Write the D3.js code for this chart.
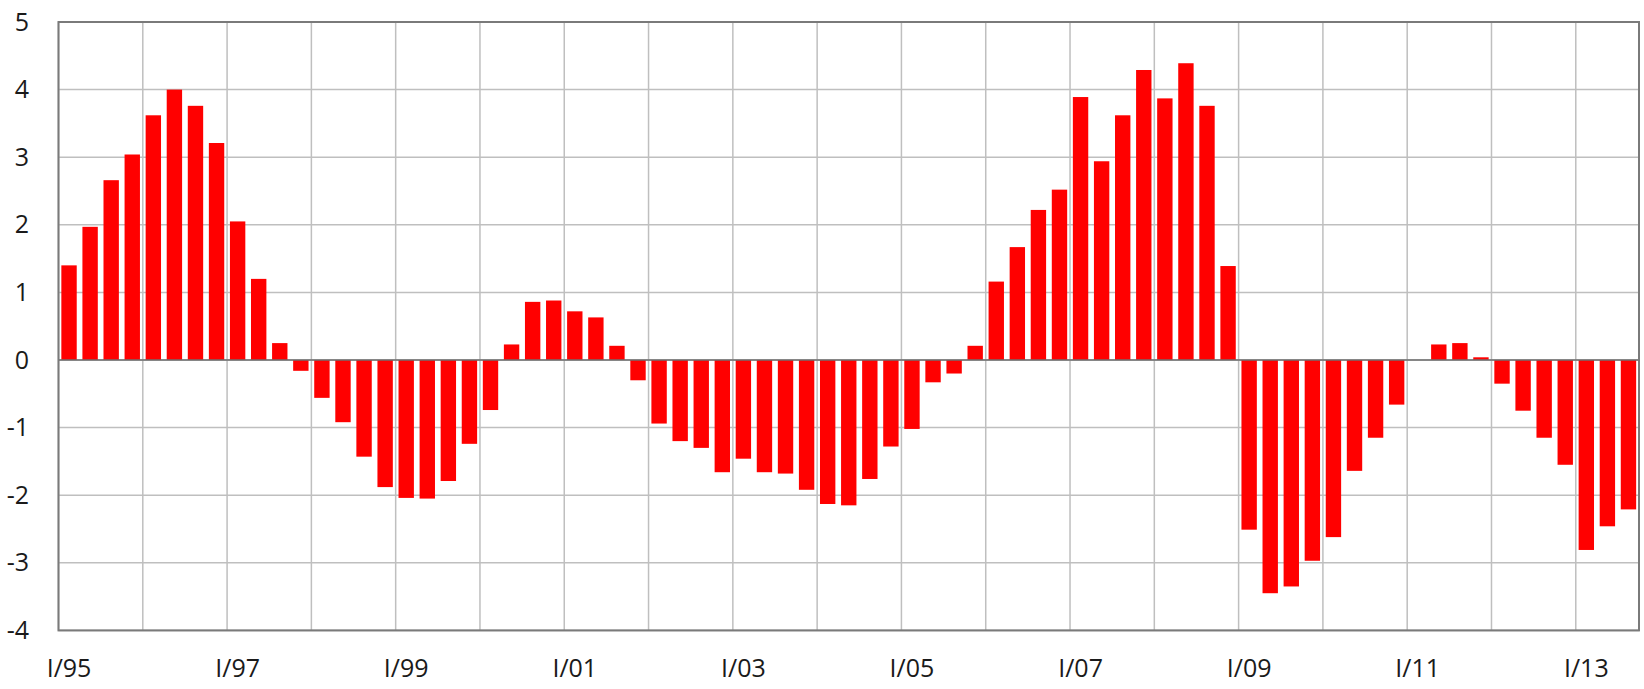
<!DOCTYPE html>
<html><head><meta charset="utf-8">
<script src="https://cdn.jsdelivr.net/npm/d3@7"></script>
<style>body{margin:0;background:#fff;} text{font-family:"Open Sans",sans-serif;}</style>
</head><body><svg id="c" width="1644" height="689"></svg>
<script>
const years = ["95","96","97","98","99","00","01","02","03","04","05","06","07","08","09","10","11","12","13"];
const quarterNames = ["I","II","III","IV"];
const values = [
 1.40, 1.97, 2.66, 3.04, 3.62, 4.00, 3.76, 3.21,
 2.05, 1.20, 0.25, -0.16, -0.56, -0.92, -1.43, -1.88,
 -2.04, -2.05, -1.79, -1.24, -0.74, 0.23, 0.86, 0.88,
 0.72, 0.63, 0.21, -0.30, -0.94, -1.20, -1.30, -1.66,
 -1.46, -1.66, -1.68, -1.92, -2.13, -2.15, -1.76, -1.28,
 -1.02, -0.33, -0.20, 0.21, 1.16, 1.67, 2.22, 2.52,
 3.89, 2.94, 3.62, 4.29, 3.87, 4.39, 3.76, 1.39,
 -2.51, -3.45, -3.35, -2.97, -2.62, -1.64, -1.15, -0.66,
 0.00, 0.23, 0.25, 0.04, -0.35, -0.75, -1.15, -1.55,
 -2.81, -2.46, -2.21
];
const yTicks = [-4,-3,-2,-1,0,1,2,3,4,5];
const xTickLabels = ["I/95","I/97","I/99","I/01","I/03","I/05","I/07","I/09","I/11","I/13"];

const categories = [];
years.forEach(y => quarterNames.forEach(q => categories.push(q + "/" + y)));
const cats = categories.slice(0, values.length);
const data = cats.map((c, i) => ({c, v: values[i]}));

const L = 58.5, R = 1639, T = 22, B = 630.4;
const svg = d3.select("#c");
const x = d3.scaleBand().domain(cats).range([L, R]).paddingInner(0.27).paddingOuter(0.135);
const xb = d3.scaleBand().domain(cats).range([L, R]).padding(0);
const y = d3.scaleLinear().domain([-4, 5]).range([B, T]);

svg.append("g").selectAll("line").data(yTicks).join("line")
  .attr("x1", L).attr("x2", R).attr("y1", d => y(d)).attr("y2", d => y(d))
  .attr("stroke", "#bfbfbf").attr("stroke-width", 1.5);
const yearStarts = cats.filter(c => c.startsWith("I/"));
svg.append("g").selectAll("line").data(yearStarts).join("line")
  .attr("x1", d => xb(d)).attr("x2", d => xb(d)).attr("y1", T).attr("y2", B)
  .attr("stroke", "#bfbfbf").attr("stroke-width", 1.5);

svg.append("g").selectAll("rect").data(data).join("rect")
  .attr("x", d => x(d.c)).attr("width", x.bandwidth())
  .attr("y", d => y(Math.max(0, d.v))).attr("height", d => Math.abs(y(d.v) - y(0)))
  .attr("fill", "#ff0000");

svg.append("line").attr("x1", L).attr("x2", R).attr("y1", y(0)).attr("y2", y(0))
  .attr("stroke", "#6e6e6e").attr("stroke-width", 1.5);
svg.append("rect").attr("x", L).attr("y", T).attr("width", R - L).attr("height", B - T)
  .attr("fill", "none").attr("stroke", "#7a7a7a").attr("stroke-width", 2);

const yAxis = d3.axisLeft(y).tickValues(yTicks).tickSize(0).tickPadding(0).tickFormat(d => String(d));
const gy = svg.append("g").attr("transform", `translate(29,0)`).call(yAxis);
gy.select(".domain").remove();
gy.selectAll("text").attr("font-size", 25).attr("fill", "#1a1a1a").attr("font-family", "'Open Sans',sans-serif");

const xAxis = d3.axisBottom(xb).tickValues(xTickLabels).tickSize(0).tickPadding(0);
const gx = svg.append("g").attr("transform", `translate(0,659)`).call(xAxis);
gx.select(".domain").remove();
gx.selectAll("text").attr("font-size", 25).attr("fill", "#1a1a1a").attr("font-family", "'Open Sans',sans-serif");
</script></body></html>
